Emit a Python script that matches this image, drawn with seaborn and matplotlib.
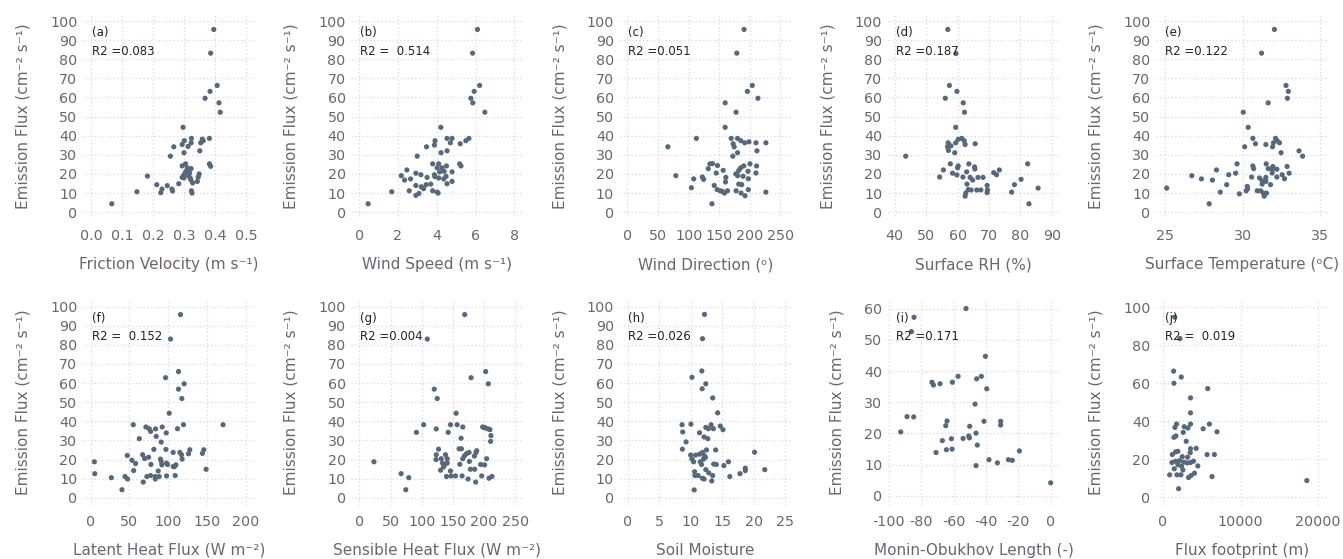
import numpy as np
import pandas as pd
import matplotlib
matplotlib.use("Agg")
import matplotlib.pyplot as plt
import seaborn as sns

# ---- data (x = driver variable, y = emission flux) ----
# (a) friction velocity
fv_x = [0.396, 0.386, 0.407, 0.384, 0.368, 0.413, 0.417, 0.297, 0.301, 0.324, 0.359, 0.382,
        0.267, 0.294, 0.313, 0.323, 0.354, 0.362, 0.351, 0.300, 0.256, 0.294, 0.305, 0.311,
        0.323, 0.382, 0.386, 0.300, 0.305, 0.315, 0.320, 0.349, 0.294, 0.346, 0.343, 0.328,
        0.182, 0.212, 0.246, 0.283, 0.229, 0.261, 0.225, 0.263, 0.324, 0.326, 0.148, 0.067,
        0.310, 0.318, 0.300, 0.322]
fv_y = [95.6, 83.2, 66.3, 63.2, 59.6, 57.2, 52.3, 44.4, 37.4, 38.6, 38.2, 38.6,
        34.2, 35.4, 34.4, 36.3, 36.3, 37.4, 32.1, 31.1, 29.3, 24.2, 25.3, 23.2,
        22.8, 25.3, 24.0, 19.6, 21.1, 19.1, 17.9, 20.0, 18.2, 18.4, 16.1, 15.3,
        18.9, 14.4, 13.9, 14.9, 12.1, 12.1, 10.2, 11.1, 11.2, 10.0, 10.7, 4.4,
        22.0, 20.5, 18.0, 17.0]

# (b) wind speed
ws_x = [6.10, 5.85, 6.21, 5.93, 5.76, 5.86, 6.48, 4.21, 3.47, 3.88, 3.91, 4.53, 4.79, 4.70,
        5.21, 5.50, 5.66, 4.22, 4.53, 2.99, 3.79, 4.10, 5.18, 5.25, 4.02, 4.27, 4.50, 4.38,
        4.79, 4.15, 2.46, 2.17, 2.92, 3.18, 3.88, 3.90, 4.10, 4.48, 4.36, 2.34, 2.65, 3.50,
        4.79, 4.53, 3.45, 3.69, 2.92, 3.20, 3.32, 2.58, 2.92, 3.08, 3.79, 4.02, 4.07, 1.68,
        0.46]
ws_y = [95.6, 83.2, 66.3, 63.2, 59.6, 57.2, 52.3, 44.4, 34.2, 35.1, 37.4, 38.6, 38.6, 36.3,
        35.8, 37.4, 38.6, 31.1, 32.1, 29.3, 25.3, 25.3, 25.3, 24.2, 23.2, 23.2, 24.2, 21.4,
        21.1, 21.1, 22.1, 19.1, 20.4, 19.6, 19.6, 18.6, 17.9, 18.8, 17.4, 16.8, 17.4, 18.2,
        16.1, 14.9, 14.4, 14.7, 14.0, 13.3, 12.3, 11.2, 8.8, 9.8, 11.2, 10.5, 10.0, 10.7,
        4.4]

# (c) wind direction
wd_x = [190.5, 178.6, 204.0, 195.9, 213.2, 159.6, 177.5, 159.6, 66.0, 112.6, 79.0, 104.4,
        108.2, 122.3, 124.5, 132.0, 134.7, 139.0, 147.1, 145.0, 141.8, 146.6, 151.5, 154.8,
        158.5, 138.0, 156.4, 160.2, 160.7, 163.4, 169.4, 172.7, 174.4, 172.2, 179.8, 179.8,
        185.2, 191.6, 198.6, 211.6, 210.0, 226.2, 177.0, 180.2, 181.8, 185.0, 190.0, 188.9,
        200.2, 197.0, 197.5, 181.8, 186.7, 177.5, 185.6, 192.1, 197.5, 211.0, 210.0, 226.2]
wd_y = [95.6, 83.2, 66.3, 63.2, 59.6, 57.2, 52.3, 44.4, 34.2, 38.6, 19.1, 12.8,
        17.4, 18.4, 17.2, 22.8, 25.3, 25.4, 24.4, 20.5, 14.0, 11.8, 11.2, 10.9,
        10.0, 4.4, 21.9, 15.8, 18.2, 11.2, 38.6, 35.8, 34.2, 29.3, 38.6, 31.1,
        37.4, 36.3, 36.8, 32.1, 36.3, 36.3, 20.0, 19.1, 21.8, 23.2, 24.2, 18.8,
        25.3, 21.4, 17.5, 14.7, 14.4, 11.2, 10.0, 8.6, 11.8, 24.2, 20.5, 10.5]

# (d) surface RH
rh_x = [56.9, 59.5, 57.4, 59.8, 56.1, 61.8, 62.2, 59.4, 43.5, 57.0, 56.8, 57.1, 57.9, 59.1,
        59.4, 60.2, 61.3, 62.1, 62.4, 65.6, 57.7, 60.0, 60.2, 63.6, 65.4, 65.5, 54.3, 55.5,
        58.4, 59.8, 61.7, 62.9, 64.0, 64.8, 66.5, 68.1, 63.0, 63.4, 62.6, 62.4, 64.3, 66.1,
        67.4, 69.4, 69.5, 69.4, 71.5, 72.4, 73.3, 77.2, 78.1, 80.2, 82.3, 82.7, 85.6]
rh_y = [95.6, 83.0, 66.3, 63.2, 59.6, 57.2, 52.3, 44.4, 29.3, 36.3, 34.2, 32.3, 34.7, 31.1,
        36.3, 38.1, 38.6, 37.4, 35.4, 35.8, 25.3, 23.2, 24.2, 25.3, 23.7, 22.6, 18.4, 22.1,
        20.4, 19.5, 18.4, 21.1, 18.2, 16.8, 18.2, 18.2, 14.7, 11.8, 10.0, 8.4, 11.6, 11.6,
        11.6, 14.0, 11.6, 10.2, 20.7, 19.6, 22.1, 10.5, 14.4, 17.2, 25.3, 4.4, 12.6]

# (e) surface temperature
st_x = [32.04, 31.21, 32.79, 32.94, 32.88, 31.64, 30.03, 30.35, 30.65, 30.12, 30.82, 31.49,
        31.98, 32.11, 32.22, 32.37, 31.92, 32.47, 33.63, 33.86, 25.09, 26.71, 27.33, 28.04,
        28.30, 27.83, 28.55, 28.96, 29.09, 29.54, 29.63, 29.78, 30.22, 30.29, 30.31, 30.57,
        30.65, 30.70, 30.93, 31.08, 31.25, 31.25, 31.15, 31.32, 31.38, 31.53, 31.49, 31.49,
        31.51, 31.64, 31.79, 31.90, 31.94, 31.90, 32.20, 32.20, 32.54, 32.69, 32.86, 32.99]
st_y = [95.6, 83.2, 66.3, 63.2, 59.6, 57.2, 52.3, 44.4, 38.6, 34.2, 35.8, 35.4,
        36.3, 38.6, 37.4, 36.3, 34.2, 31.1, 32.1, 29.3, 12.6, 19.1, 17.4, 16.8,
        22.1, 4.4, 10.5, 14.4, 19.6, 20.4, 25.3, 9.6, 11.2, 13.5, 12.3, 18.4,
        24.2, 22.8, 11.2, 17.9, 16.5, 14.7, 11.2, 10.0, 8.4, 10.0, 16.1, 18.2,
        25.3, 22.8, 14.4, 20.5, 23.9, 22.3, 18.4, 22.5, 19.6, 17.5, 23.9, 20.4]

# (f) latent heat flux
le_x = [115.9, 103.0, 113.3, 96.6, 120.6, 113.3, 117.6, 101.3, 54.9, 170.8, 119.7, 112.0,
        71.2, 75.5, 77.3, 83.7, 92.3, 97.4, 62.7, 84.5, 91.0, 81.5, 97.0, 106.4, 115.0,
        127.9, 126.2, 117.2, 118.0, 109.9, 106.4, 145.9, 144.2, 148.9, 4.7, 5.2, 26.6, 44.2,
        47.6, 40.3, 47.2, 53.2, 57.9, 55.4, 67.8, 67.0, 69.5, 74.7, 77.7, 72.5, 77.3, 83.3,
        83.3, 87.1, 88.4, 90.1, 91.0, 91.8, 97.9, 99.1, 97.9, 109.0, 108.2]
le_y = [95.8, 83.0, 66.0, 62.8, 59.6, 56.8, 51.9, 44.2, 38.2, 38.2, 38.2, 36.1,
        37.0, 36.1, 34.7, 36.0, 37.0, 33.9, 30.9, 32.1, 29.1, 25.3, 25.3, 23.7, 23.7,
        25.1, 23.0, 22.5, 20.2, 17.2, 16.3, 25.1, 23.2, 14.9, 18.8, 12.6, 10.5, 11.1,
        9.8, 4.2, 22.1, 19.6, 17.9, 14.2, 8.2, 22.5, 20.5, 21.2, 17.4, 11.1, 11.6, 11.1,
        9.8, 14.0, 11.1, 20.2, 19.0, 17.2, 18.1, 17.4, 11.4, 11.6, 16.3]

# (g) sensible heat flux
sh_x = [169.1, 109.0, 202.7, 179.3, 206.9, 120.2, 125.0, 155.3, 103.2, 146.3, 156.9, 166.0,
        91.5, 123.4, 142.6, 197.9, 200.5, 202.1, 206.9, 209.6, 211.2, 210.6, 163.3, 160.1,
        163.8, 127.1, 123.4, 122.9, 23.4, 67.0, 79.3, 74.5, 131.4, 133.5, 137.2, 141.0,
        138.3, 141.0, 130.3, 135.1, 139.9, 146.3, 147.3, 154.3, 161.2, 166.0, 168.6, 171.8,
        176.1, 176.6, 164.9, 174.5, 178.2, 185.1, 184.6, 187.2, 188.3, 186.7, 194.7, 201.1,
        204.3, 196.3, 208.0, 212.8]
sh_y = [95.8, 83.0, 66.0, 62.8, 59.6, 56.8, 51.9, 44.2, 38.2, 38.2, 38.2, 37.0,
        34.2, 36.0, 34.2, 37.0, 36.8, 36.5, 36.0, 35.6, 32.5, 29.5, 31.1, 25.6,
        25.6, 25.4, 22.5, 20.0, 18.8, 12.6, 10.5, 4.2, 20.4, 18.1, 17.4, 18.1,
        22.5, 20.4, 14.4, 16.1, 11.1, 14.0, 11.4, 11.4, 17.5, 20.4, 21.9, 23.0,
        23.7, 19.0, 11.4, 9.8, 14.9, 14.9, 21.8, 23.7, 24.6, 8.2, 17.4, 17.2,
        20.4, 11.4, 10.2, 11.1]

# (h) soil moisture
sm_x = [12.19, 11.87, 11.77, 10.20, 12.40, 11.82, 13.49, 14.28, 8.63, 10.04, 13.23, 14.70,
        15.12, 8.73, 11.40, 12.40, 12.81, 13.60, 9.26, 12.13, 12.71, 8.68, 12.50, 13.96,
        9.99, 10.77, 11.40, 11.87, 12.19, 10.20, 10.46, 11.51, 11.72, 12.03, 12.34, 13.65,
        14.07, 15.27, 16.00, 20.14, 10.62, 10.67, 11.19, 11.87, 12.40, 13.49, 13.34, 16.21,
        17.83, 18.67, 18.67, 21.76, 10.56, 12.13, 12.87]
sm_y = [95.9, 83.2, 66.3, 63.0, 59.6, 57.0, 52.2, 44.4, 38.2, 38.5, 38.2, 37.5,
        35.6, 34.4, 34.0, 36.8, 36.1, 36.1, 29.2, 31.8, 30.9, 25.4, 25.0, 25.0,
        22.3, 22.3, 22.8, 23.7, 21.9, 20.2, 18.8, 18.8, 17.4, 20.2, 21.1, 17.6,
        17.4, 16.8, 18.8, 23.8, 13.6, 11.6, 11.6, 10.2, 14.7, 11.6, 8.8, 11.1,
        12.6, 14.2, 15.5, 14.7, 4.1, 9.8, 13.0]

# (i) Monin-Obukhov length
mo_x = [-52.3, -84.4, -86.0, -40.3, -73.3, -72.4, -68.3, -60.7, -57.2, -42.8, -45.7, -39.5,
        -46.7, -92.6, -88.7, -84.6, -70.8, -66.9, -64.8, -64.0, -64.4, -61.3, -60.9, -54.1,
        -50.6, -50.2, -50.0, -46.1, -45.3, -46.1, -41.2, -38.1, -32.9, -30.9, -30.9, -26.1,
        -23.7, -19.3, 0.0]
mo_y = [60.0, 57.2, 52.6, 44.7, 36.4, 35.5, 35.9, 36.4, 38.3, 38.3, 37.5, 34.3,
        29.4, 20.5, 25.4, 25.3, 13.9, 17.7, 22.5, 24.0, 14.8, 18.3, 15.0, 18.4,
        19.2, 18.6, 22.3, 20.1, 16.3, 9.7, 23.9, 11.6, 10.6, 23.9, 22.7, 11.6,
        11.4, 14.4, 4.2]

# (j) flux footprint
ff_x = [1496, 2180, 1368, 2351, 1410, 5770, 3547, 3547, 1752, 3547, 5984, 1539, 2735, 3205,
        5171, 6966, 2607, 1410, 1667, 2992, 3547, 4274, 1624, 1197, 1923, 3504, 5684, 6624,
        2479, 3163, 1154, 1624, 2137, 2693, 3547, 3932, 4488, 1923, 2393, 1453, 2565, 855,
        1795, 2308, 3632, 4060, 3291, 6325, 2009, 18549, 3120]
ff_y = [94.9, 83.6, 66.4, 63.3, 60.0, 57.2, 52.3, 44.4, 38.5, 38.5, 38.5, 36.7, 37.1, 36.4,
        36.0, 34.4, 34.1, 31.5, 32.2, 29.4, 25.5, 25.7, 23.8, 22.4, 24.1, 23.4, 22.4, 22.4,
        21.3, 21.0, 18.2, 18.9, 19.2, 18.4, 18.2, 18.9, 16.4, 17.0, 16.3, 14.9, 14.3, 11.7,
        11.7, 11.7, 11.4, 12.6, 10.3, 10.8, 4.4, 8.7, 18.0]

panel_tags = ["(a)", "(b)", "(c)", "(d)", "(e)", "(f)", "(g)", "(h)", "(i)", "(j)"]
r2_labels = ["R2 =0.083", "R2 =  0.514", "R2 =0.051", "R2 =0.187", "R2 =0.122",
             "R2 =  0.152", "R2 =0.004", "R2 =0.026", "R2 =0.171", "R2 =  0.019"]
x_labels = ["Friction Velocity (m s\u207b\u00b9)", "Wind Speed (m s\u207b\u00b9)",
            "Wind Direction (\u1d52)", "Surface RH (%)", "Surface Temperature (\u1d52C)",
            "Latent Heat Flux (W m\u207b\u00b2)", "Sensible Heat Flux (W m\u207b\u00b2)",
            "Soil Moisture", "Monin-Obukhov Length (-)", "Flux footprint (m)"]
y_label = "Emission Flux (cm\u207b\u00b2 s\u207b\u00b9)"

x_ticks = [[0.0, 0.1, 0.2, 0.3, 0.4, 0.5], [0, 2, 4, 6, 8], [0, 50, 100, 150, 200, 250],
           [40, 50, 60, 70, 80, 90], [25, 30, 35], [0, 50, 100, 150, 200],
           [0, 50, 100, 150, 200, 250], [0, 5, 10, 15, 20, 25],
           [-100, -80, -60, -40, -20, 0], [0, 10000, 20000]]
y_ticks_full = list(range(0, 101, 10))
y_ticks = [y_ticks_full] * 8 + [list(range(0, 61, 10)), list(range(0, 101, 20))]

panels = [(fv_x, fv_y), (ws_x, ws_y), (wd_x, wd_y), (rh_x, rh_y), (st_x, st_y),
          (le_x, le_y), (sh_x, sh_y), (sm_x, sm_y), (mo_x, mo_y), (ff_x, ff_y)]

# axis ranges picked so the ticks land where they do in the picture
x_lims = [(-0.026, 0.529), (-0.41, 8.46), (-13, 268), (37.8, 92.5), (24.4, 35.5),
          (-10, 212), (-13, 263), (-1.3, 26), (-100.6, 5.6), (-900, 21280)]
y_lims = [(-3.8, 104.2)] * 8 + [(-2.9, 63.2), (-4.2, 104.7)]

sns.set_theme(style="white")
plt.rcParams["font.family"] = ["DejaVu Sans"]
plt.rcParams["axes.unicode_minus"] = False

text_col = "#6b6570"
dot_col = "#56687a"
grid_col = "#d6d6e6"

fig, axs = plt.subplots(2, 5, figsize=(13.43, 5.59), dpi=100)
fig.subplots_adjust(left=83 / 1343, right=1328 / 1343, top=1 - 13 / 559,
                    bottom=1 - 505 / 559, wspace=0.56, hspace=0.383)

for i, ax in enumerate(axs.flat):
    xs, ys = panels[i]
    df = pd.DataFrame({"x": xs, "y": ys})
    sns.scatterplot(data=df, x="x", y="y", ax=ax, color=dot_col, s=14,
                    edgecolor="none", linewidth=0, zorder=3)
    ax.set_xlim(*x_lims[i])
    ax.set_ylim(*y_lims[i])
    ax.set_xticks(x_ticks[i])
    ax.set_yticks(y_ticks[i])
    if i == 0:
        ax.set_xticklabels([f"{t:.1f}" for t in x_ticks[i]])
    for sp in ax.spines.values():
        sp.set_visible(False)
    ax.grid(True, color=grid_col, linestyle=(0, (1, 2)), linewidth=0.9)
    ax.set_axisbelow(True)
    ax.tick_params(axis="both", length=0, labelsize=10.3, colors=text_col)
    ax.tick_params(axis="x", pad=7)
    ax.tick_params(axis="y", pad=4)
    ax.set_xlabel(x_labels[i], fontsize=11, color=text_col, labelpad=10)
    ax.set_ylabel(y_label, fontsize=11, color=text_col, labelpad=14)
    ax.text(0.05, 0.905, panel_tags[i], transform=ax.transAxes, fontsize=8.5,
            color="#222222", va="center", ha="left", zorder=4)
    ax.text(0.05, 0.815, r2_labels[i], transform=ax.transAxes, fontsize=8.5,
            color="#222222", va="center", ha="left", zorder=4)

plt.savefig("out.png", dpi=100)
